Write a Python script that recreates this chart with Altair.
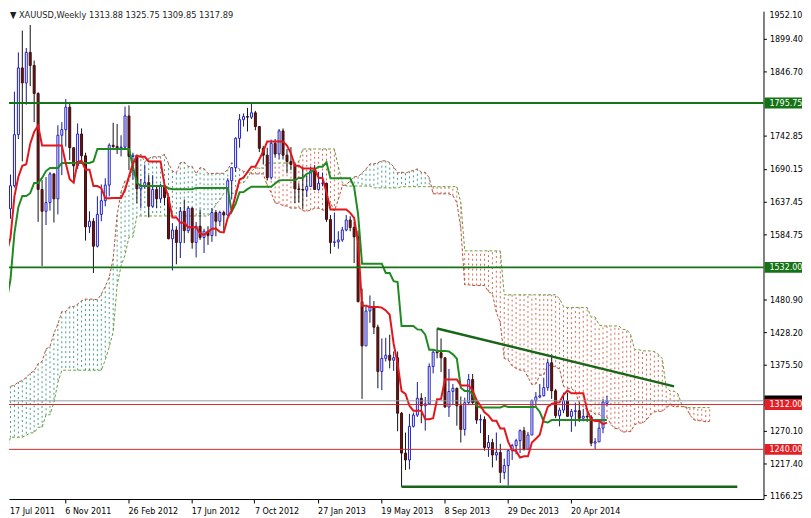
import altair as alt
import pandas as pd

# ---------------- data ----------------
opens = [
    1593, 1601, 1626, 1663, 1745, 1852, 1828, 1877, 1856, 1811, 1657, 1622, 1636, 1682, 1642, 1744, 1753, 1789, 1724, 1695, 1746, 1711, 1597, 1606,
    1566, 1617, 1639, 1664, 1728, 1726, 1724, 1725, 1775, 1710, 1712, 1658, 1662, 1668, 1630, 1657, 1642, 1663, 1644, 1578, 1592, 1572, 1622, 1591, 1627, 1572, 1598, 1580,
    1590, 1583, 1620, 1606, 1620, 1616, 1671, 1692, 1739, 1769, 1774, 1773, 1780, 1758, 1723, 1712, 1676, 1731, 1714, 1751, 1712, 1702, 1697, 1658,
    1657, 1656, 1662, 1687, 1657, 1667, 1667, 1609, 1572, 1573, 1576, 1592, 1608, 1596, 1581, 1477, 1406, 1462, 1469, 1436, 1365, 1386, 1391, 1383, 1387, 1298,
    1234, 1223, 1277, 1295, 1322, 1310, 1313, 1373, 1396, 1395, 1387, 1308, 1333, 1338, 1310, 1272, 1315, 1352, 1315, 1287, 1288, 1243, 1251, 1231, 1235, 1203,
    1214, 1238, 1246, 1254, 1270, 1240, 1263, 1318, 1324, 1326, 1339, 1379, 1334, 1294, 1303, 1318, 1293, 1301, 1302, 1290, 1293, 1292, 1250, 1252, 1274, 1313.88,
]
highs = [
    1610, 1632, 1681, 1814, 1877, 1912, 1884, 1921, 1864, 1813, 1672, 1677, 1685, 1683, 1760, 1765, 1802, 1795, 1724, 1763, 1755, 1716, 1622, 1611,
    1646, 1665, 1675, 1731, 1764, 1762, 1744, 1790, 1792, 1716, 1712, 1674, 1697, 1680, 1680, 1661, 1666, 1666, 1646, 1603, 1598, 1629, 1641, 1630, 1628, 1605, 1625, 1594,
    1598, 1627, 1624, 1623, 1623, 1675, 1692, 1741, 1778, 1779, 1788, 1795.75, 1783, 1758, 1727, 1724, 1737, 1738, 1754, 1755, 1722, 1725, 1699, 1667,
    1694, 1679, 1694, 1696, 1685, 1684, 1668, 1616, 1620, 1590, 1597, 1616, 1614, 1605, 1591, 1498, 1469, 1487, 1478, 1440, 1418, 1419, 1424, 1397, 1397, 1300,
    1267, 1297, 1299, 1348, 1330, 1324, 1378, 1400, 1434, 1418, 1387, 1369, 1345, 1339, 1325, 1323, 1361, 1361, 1322, 1296, 1293, 1263, 1257, 1267, 1249, 1225,
    1240, 1249, 1257, 1272, 1276, 1268, 1320, 1332, 1345, 1355, 1384, 1392, 1337, 1307, 1331, 1331, 1305, 1315, 1315, 1305, 1304, 1295, 1258, 1284, 1321, 1325.75,
]
lows = [
    1578, 1598, 1610, 1660, 1738, 1702, 1793, 1823, 1765, 1605, 1534, 1600, 1623, 1604, 1617, 1680, 1726, 1704, 1668, 1690, 1703, 1575, 1587, 1523,
    1564, 1606, 1630, 1646, 1722, 1714, 1710, 1722, 1688, 1673, 1635, 1627, 1658, 1612, 1628, 1627, 1636, 1632, 1577, 1527, 1537, 1547, 1571, 1587, 1562, 1548, 1576, 1555,
    1568, 1573, 1582, 1598, 1591, 1615, 1641, 1685, 1724, 1758, 1750, 1770, 1752, 1717, 1697, 1672, 1673, 1708, 1705, 1705, 1683, 1688, 1635, 1636,
    1626, 1645, 1661, 1656, 1655, 1662, 1605, 1554, 1565, 1562, 1573, 1590, 1590, 1539, 1476, 1321, 1406, 1443, 1425, 1338, 1335, 1381, 1370, 1366, 1269, 1180,
    1207, 1208, 1275, 1292, 1282, 1270, 1311, 1362, 1386, 1364, 1307, 1292, 1313, 1278, 1251, 1262, 1311, 1312, 1281, 1266, 1238, 1228, 1211, 1222, 1186, 1192,
    1182, 1223, 1232, 1234, 1238, 1239, 1263, 1309, 1322, 1325, 1334, 1321, 1290, 1277, 1298, 1292, 1268, 1277, 1284, 1285, 1284, 1245, 1240, 1252, 1266, 1309.85,
]
closes = [
    1601, 1628, 1663, 1745, 1852, 1828, 1877, 1856, 1811, 1657, 1622, 1636, 1682, 1642, 1744, 1753, 1789, 1724, 1695, 1746, 1711, 1597, 1606, 1566,
    1617, 1639, 1664, 1728, 1726, 1724, 1725, 1775, 1710, 1712, 1658, 1662, 1668, 1630, 1657, 1642, 1663, 1644, 1578, 1592, 1572, 1622, 1591, 1627, 1572, 1598, 1580, 1590,
    1583, 1620, 1606, 1620, 1616, 1671, 1692, 1739, 1769, 1774, 1773, 1780, 1758, 1723, 1712, 1676, 1731, 1714, 1751, 1712, 1702, 1697, 1658, 1657,
    1656, 1662, 1687, 1657, 1667, 1667, 1609, 1572, 1573, 1576, 1592, 1608, 1596, 1581, 1477, 1406, 1462, 1469, 1436, 1365, 1386, 1391, 1383, 1387, 1298, 1234,
    1223, 1277, 1295, 1322, 1310, 1313, 1373, 1396, 1395, 1387, 1308, 1333, 1338, 1310, 1272, 1315, 1352, 1315, 1287, 1288, 1243, 1251, 1231, 1235, 1203, 1214,
    1238, 1246, 1254, 1270, 1240, 1263, 1318, 1324, 1326, 1339, 1379, 1334, 1294, 1303, 1318, 1293, 1301, 1302, 1290, 1293, 1292, 1250, 1252, 1274, 1316, 1317.89,
]

tenkan = [
    1544, 1555, 1579.5, 1646, 1677.5, 1695, 1697.5, 1730.5, 1749.5, 1759.5,
    1727.5, 1727.5, 1727.5, 1727.5, 1727.5, 1727.5, 1699, 1673.5, 1668, 1701,
    1703, 1688.5, 1688.5, 1662.5, 1662.5, 1659, 1643, 1643, 1643.5, 1643.5,
    1643.5, 1656.5, 1678, 1699, 1711, 1709.5, 1709.5, 1702, 1702, 1702,
    1702, 1664, 1644.5, 1612, 1612, 1603.5, 1603.5, 1596.5, 1596.5, 1596.5,
    1586.5, 1584, 1589, 1594, 1594.5, 1589, 1588, 1611.5, 1623.5, 1648,
    1673, 1676, 1685, 1693.5, 1693.5, 1705.5, 1718.5, 1734, 1734, 1734,
    1734, 1734, 1727.5, 1715, 1695, 1695, 1690.5, 1690.5, 1690.5, 1690.5,
    1675.5, 1675.5, 1652, 1625, 1625, 1625, 1625, 1625, 1619.5, 1611.5,
    1572, 1470.5, 1470.5, 1468.5, 1468.5, 1468.5, 1467.5, 1463, 1456, 1409.5,
    1378, 1333.5, 1329, 1310, 1302, 1302, 1302, 1288.5, 1288.5, 1290,
    1320.5, 1321, 1352, 1352, 1352, 1352, 1342.5, 1342.5, 1342.5, 1334.5,
    1319, 1310, 1299.5, 1294.5, 1286, 1286, 1273.5, 1273.5, 1252, 1239,
    1237.5, 1227, 1229, 1229, 1251, 1257, 1263.5, 1289, 1308, 1313,
    1315, 1315.5, 1327.5, 1334.5, 1330, 1330, 1330, 1330, 1302.5, 1288,
    1285.5, 1285.5, 1280.5, 1282.9,
]
kijun = [
    1459, 1477.5, 1512.5, 1586.5, 1629, 1646.5, 1646.5, 1651, 1667.5, 1667.5,
    1675.5, 1686.5, 1691.5, 1691.5, 1691.5, 1699.5, 1699.5, 1699.5, 1699.5, 1699.5,
    1699.5, 1699.5, 1699.5, 1702, 1722, 1722, 1722, 1722, 1722, 1722,
    1722, 1722, 1722, 1693.5, 1668, 1662.5, 1662.5, 1662.5, 1662.5, 1662.5,
    1662.5, 1662.5, 1659, 1657.5, 1657.5, 1657.5, 1657.5, 1657.5, 1657.5, 1659.5,
    1659.5, 1659.5, 1659.5, 1659.5, 1659.5, 1659.5, 1659.5, 1659.5, 1621.5, 1634,
    1652.5, 1653, 1657.5, 1661.5, 1661.5, 1661.5, 1661.5, 1661.5, 1661.5, 1666.5,
    1671.5, 1672, 1672, 1672, 1672, 1675.5, 1675.5, 1682, 1684.5, 1689,
    1693.5, 1693.5, 1700.5, 1675, 1675, 1675, 1675, 1675, 1675, 1661,
    1617, 1538, 1538, 1538, 1538, 1538, 1538, 1523, 1523, 1510,
    1508.5, 1438, 1438, 1438, 1438, 1432.5, 1432, 1424, 1400, 1400,
    1398, 1398, 1398, 1397, 1392.5, 1385.5, 1339, 1333.5, 1333.5, 1329,
    1310, 1307, 1307, 1307, 1307, 1307, 1307, 1310, 1308, 1308,
    1308, 1308, 1308, 1308, 1308, 1308, 1300, 1284.5, 1283, 1287,
    1287, 1287, 1287, 1287, 1287, 1287, 1287, 1287, 1287, 1287,
    1287, 1287, 1287, 1287,
]
span_a = [
    1339.75, 1336, 1341, 1343, 1348, 1350.5, 1355.5, 1362, 1366, 1377.5,
    1381, 1401, 1405, 1426, 1441, 1461, 1461, 1469, 1469, 1473,
    1478.5, 1481, 1481, 1481, 1480, 1489, 1501.5, 1516, 1546, 1616,
    1653, 1671, 1672, 1691, 1708.5, 1713.5, 1701.5, 1707, 1709.5, 1709.5,
    1709.5, 1713.5, 1699, 1686.5, 1684, 1700, 1701, 1694, 1694, 1682,
    1692, 1690.5, 1682.5, 1682.5, 1683, 1683, 1683, 1689, 1700, 1696,
    1689.5, 1686, 1686, 1682, 1682, 1682, 1682, 1663, 1652, 1635,
    1635, 1630.5, 1630.5, 1627, 1627, 1628, 1623, 1622, 1624, 1627,
    1627, 1624, 1624, 1635.5, 1622.5, 1641, 1663, 1664.5, 1671, 1677.5,
    1677.5, 1683.5, 1690, 1698, 1698, 1700, 1703, 1703, 1700, 1693.5,
    1683.5, 1685, 1683, 1686, 1687.5, 1690, 1684.5, 1684.5, 1676, 1650,
    1650, 1650, 1650, 1650, 1647, 1636, 1594.5, 1504, 1504, 1503,
    1503, 1503, 1503, 1493, 1489.5, 1460, 1443, 1386, 1383.5, 1374,
    1370, 1367, 1367, 1356, 1344, 1345, 1359, 1359.5, 1375, 1374.5,
    1372, 1369, 1341, 1338, 1338, 1332, 1314.5, 1308.5, 1303, 1301,
    1296.5, 1296.5, 1290, 1292, 1280, 1273.5, 1273, 1267.5, 1268.5, 1268.5,
    1279.5, 1282.5, 1282, 1287, 1295.5, 1300, 1301, 1301, 1307, 1311,
    1308.5, 1308.5, 1308.5, 1308.5, 1295, 1287.5, 1286, 1286, 1284, 1285,
]
span_b = [
    1237.5, 1237.5, 1259.5, 1259.5, 1259.5, 1259.5, 1262.5, 1266.5, 1266.5, 1275.5,
    1275.5, 1295.5, 1295.5, 1315.5, 1347, 1367, 1367, 1367, 1367, 1367,
    1367, 1367, 1367, 1367, 1367, 1367, 1383.5, 1404, 1428.5, 1503,
    1534.5, 1552, 1580.5, 1580.5, 1614.5, 1614.5, 1614.5, 1614.5, 1614.5, 1614.5,
    1614.5, 1614.5, 1614.5, 1614.5, 1614.5, 1614.5, 1614.5, 1614.5, 1614.5, 1614.5,
    1614.5, 1614.5, 1614.5, 1622, 1632.5, 1640, 1651, 1651, 1651, 1651,
    1667.5, 1667.5, 1675.5, 1686.5, 1691.5, 1691.5, 1691.5, 1699.5, 1699.5, 1699.5,
    1699.5, 1699.5, 1699.5, 1699.5, 1699.5, 1702, 1722, 1722, 1722, 1722,
    1722, 1722, 1722, 1722, 1722, 1693.5, 1668, 1662.5, 1662.5, 1662.5,
    1662.5, 1662.5, 1662.5, 1662.5, 1659.5, 1659.5, 1659.5, 1659.5, 1659.5, 1659.5,
    1659.5, 1661.5, 1661.5, 1661.5, 1661.5, 1661.5, 1661.5, 1661.5, 1661.5, 1661.5,
    1661.5, 1661.5, 1661.5, 1661.5, 1661.5, 1661.5, 1636, 1558.5, 1558.5, 1558.5,
    1558.5, 1558.5, 1558.5, 1558.5, 1558.5, 1558.5, 1558.5, 1488, 1488, 1488,
    1488, 1488, 1488, 1488, 1488, 1488, 1488, 1488, 1488, 1488,
    1488, 1481.5, 1469, 1467.5, 1467.5, 1467.5, 1467.5, 1467.5, 1467.5, 1452.5,
    1452.5, 1439.5, 1438, 1438, 1438, 1438, 1438, 1432.5, 1432, 1424,
    1400, 1400, 1398, 1398, 1398, 1397, 1392.5, 1385.5, 1339, 1333.5,
    1333.5, 1329, 1310, 1307, 1307, 1307, 1307, 1307, 1307, 1307,
]

date_labels = ["6 Nov 2011", "26 Feb 2012", "17 Jun 2012", "7 Oct 2012", "27 Jan 2013",
               "19 May 2013", "8 Sep 2013", "29 Dec 2013", "20 Apr 2014"]
date_label_weeks = [16, 32, 48, 64, 80, 96, 112, 128, 144]
first_date_label = "17 Jul 2011"
price_labels = [1899.40, 1846.70, 1742.85, 1690.15, 1637.45, 1584.75, 1480.90,
                1428.20, 1375.50, 1270.10, 1217.40, 1166.25]
top_price_label = "1952.10"
green_levels = [1795.75, 1532.00]
red_levels = [1312.00, 1240.00]
bid_price = 1317.89
trend_weeks = [110, 170]
trend_prices = [1434.0, 1341.0]
support_weeks = [101, 186]
support_prices = [1180.0, 1180.0]
header_text = "\u25bc XAUUSD,Weekly  1313.88 1325.75 1309.85 1317.89"

# ---------------- styling ----------------
W, H = 764, 494
FONT = "DejaVu Sans Condensed, DejaVu Sans, sans-serif"
BULL = "#1c1cc4"
BULL_WICK = "#16168e"
BEAR_FILL = "#6b1515"
BEAR_EDGE = "#3e0c0c"
TENKAN = "#e3161b"
KIJUN = "#1f8a1f"
LEVEL_GREEN = "#157315"
TREND = "#196619"
LEVEL_RED = "#d42a2a"
SPAN_A_COL = "#b4503a"
SPAN_B_COL = "#6a9a3a"
HATCH_BULL = "#3f9c86"
HATCH_BEAR = "#d0694f"

xs = alt.Scale(domain=[1.625, 192.625], nice=False, zero=False)
ys = alt.Scale(domain=[1160.3, 1943.1], nice=False, zero=False)

n = len(closes)
candles = pd.DataFrame({"week": list(range(n)), "open": opens, "high": highs,
                        "low": lows, "close": closes})
ind = pd.DataFrame({"week": list(range(n)), "tenkan": tenkan, "kijun": kijun})
cloud = pd.DataFrame({"week": list(range(len(span_a))), "a": span_a, "b": span_b})

label_expr = "[" + ",".join("'%s'" % s for s in date_labels) + "][round((datum.value + 0.25) / 16) - 1]"
x_axis = alt.Axis(values=[w - 0.25 for w in date_label_weeks], labelExpr=label_expr,
                  labelAlign="left", labelBaseline="top", labelPadding=4, tickSize=4,
                  tickColor="black", domainColor="black", labelColor="black",
                  labelFont=FONT, labelFontSize=9, grid=False, title=None,
                  labelOverlap=False, labelFlush=False, labelBound=False)
y_axis = alt.Axis(orient="right", values=price_labels, format=".2f", tickSize=3,
                  labelPadding=3, tickColor="black", domainColor="black",
                  labelColor="black", labelFont=FONT, labelFontSize=9, grid=False,
                  title=None, labelOverlap=False, labelFlush=False, labelBound=False)


def X(field):
    return alt.X(field, type="quantitative", scale=xs, axis=x_axis)


def Y(field):
    return alt.Y(field, type="quantitative", scale=ys, axis=y_axis)


hatch = alt.Chart(cloud).mark_rule(strokeDash=[2, 3], strokeWidth=1, clip=True).encode(
    x=X("week"), y=Y("a"), y2="b",
    color=alt.condition("datum.a >= datum.b", alt.value(HATCH_BULL), alt.value(HATCH_BEAR)))
line_a = alt.Chart(cloud).mark_line(strokeDash=[3, 2], strokeWidth=1, color=SPAN_A_COL,
                                    clip=True).encode(x=X("week"), y=Y("a"))
line_b = alt.Chart(cloud).mark_line(strokeDash=[3, 2], strokeWidth=1, color=SPAN_B_COL,
                                    clip=True).encode(x=X("week"), y=Y("b"))

wicks = alt.Chart(candles).mark_rule(strokeWidth=1, clip=True).encode(
    x=X("week"), y=Y("low"), y2="high",
    color=alt.condition("datum.close >= datum.open", alt.value(BULL_WICK), alt.value("#111111")))
bodies = alt.Chart(candles).transform_calculate(
    x1="datum.week - 0.25", x2="datum.week + 0.25"
).mark_rect(strokeWidth=1, clip=True).encode(
    x=X("x1"), x2="x2", y=Y("open"), y2="close",
    fill=alt.condition("datum.close >= datum.open", alt.value("white"), alt.value(BEAR_FILL)),
    stroke=alt.condition("datum.close >= datum.open", alt.value(BULL), alt.value(BEAR_EDGE)))

kijun_line = alt.Chart(ind).mark_line(strokeWidth=2, color=KIJUN, clip=True).encode(
    x=X("week"), y=Y("kijun"))
tenkan_line = alt.Chart(ind).mark_line(strokeWidth=2, color=TENKAN, clip=True).encode(
    x=X("week"), y=Y("tenkan"))

green_rules = alt.Chart(pd.DataFrame({"price": green_levels})).mark_rule(
    strokeWidth=2, color=LEVEL_GREEN).encode(y=Y("price"))
red_rules = alt.Chart(pd.DataFrame({"price": red_levels})).mark_rule(
    strokeWidth=1, color=LEVEL_RED).encode(y=Y("price"))
bid_rule = alt.Chart(pd.DataFrame({"price": [bid_price]})).mark_rule(
    strokeWidth=1, color="#9a9aa6").encode(y=Y("price"))

trend = alt.Chart(pd.DataFrame({"week": trend_weeks, "price": trend_prices})).mark_line(
    strokeWidth=2.5, color=TREND, clip=True).encode(x=X("week"), y=Y("price"))
support = alt.Chart(pd.DataFrame({"week": support_weeks, "price": support_prices})).mark_line(
    strokeWidth=2.5, color=TREND, clip=True).encode(x=X("week"), y=Y("price"))

box_df = pd.DataFrame({
    "price": [bid_price] + green_levels + red_levels,
    "bg": ["#000000", LEVEL_GREEN, LEVEL_GREEN, "#e31e24", "#e31e24"],
})
box_df["label"] = [""] + ["%.2f" % v for v in green_levels + red_levels]
boxes = alt.Chart(box_df).mark_tick(orient="horizontal", size=38, thickness=11, opacity=1).encode(
    x=alt.value(W + 20), y=Y("price"), color=alt.Color("bg:N", scale=None))
box_text = alt.Chart(box_df).transform_filter("datum.label != ''").mark_text(
    align="left", baseline="middle", color="white", font=FONT, fontSize=9).encode(
    x=alt.value(W + 6), y=Y("price"), text="label:N")

header = alt.Chart(pd.DataFrame({"t": [header_text]})).mark_text(
    align="left", baseline="top", font=FONT, fontSize=9.3, color="#1e1e1e").encode(
    x=alt.value(1), y=alt.value(0), text="t:N")
top_label = alt.Chart(pd.DataFrame({"t": [top_price_label]})).mark_text(
    align="left", baseline="top", font=FONT, fontSize=9, color="black").encode(
    x=alt.value(W + 6), y=alt.value(0), text="t:N")
first_label = alt.Chart(pd.DataFrame({"t": [first_date_label]})).mark_text(
    align="left", baseline="top", font=FONT, fontSize=9, color="black").encode(
    x=alt.value(1), y=alt.value(H + 8), text="t:N")

chart = alt.layer(
    hatch, line_a, line_b, wicks, bodies, kijun_line, tenkan_line,
    green_rules, red_rules, bid_rule, trend, support,
    boxes, box_text, header, top_label, first_label,
).properties(width=W, height=H, padding=0, background="white").configure_view(stroke=None)

chart.save("out.html", embed_options={"renderer": "svg", "actions": False})
